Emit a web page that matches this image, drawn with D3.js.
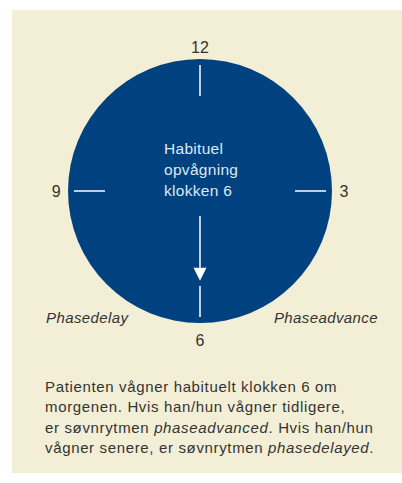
<!DOCTYPE html>
<meta charset="utf-8">
<title>Phase clock</title>
<style>
body { margin: 0; background: #fff; }
svg { display: block; font-family: "Liberation Sans", Arial, sans-serif; }
.hour { fill: #333; font-size: 16px; }
.phase { fill: #333; font-size: 15px; font-style: italic; letter-spacing: 0.4px; }
.center { fill: #dfe8f2; font-size: 15.5px; letter-spacing: 0.3px; }
.note { fill: #333; font-size: 15px; letter-spacing: 0.65px; }
</style>
<body>
<div id="graph"></div>
</body>
<script src="https://cdn.jsdelivr.net/npm/d3@7"></script>
<script>

var hours = [12, 3, 6, 9],
    centerLines = ['Habituel', 'opvågning', 'klokken 6'],
    phases = [{label: 'Phasedelay', side: 'left'}, {label: 'Phaseadvance', side: 'right'}],
    wakeHour = 6,
    noteLines = [
      [['Patienten vågner habituelt klokken 6 om', false]],
      [['morgenen. Hvis han/hun vågner tidligere,', false]],
      [['er søvnrytmen ', false], ['phaseadvanced', true], ['. Hvis han/hun', false]],
      [['vågner senere, er søvnrytmen ', false], ['phasedelayed', true], ['.', false]]
    ];

var W = 402, H = 483,
    cx = 200, cy = 191, R = 132;

var svg = d3.select('#graph').append('svg').attr('width', W).attr('height', H);

svg.append('rect').attr('x', 12).attr('y', 10).attr('width', W - 12).attr('height', 463)
  .attr('fill', '#f3eed6');

// clock angle: 0 at 12 o'clock, clockwise
var angle = d3.scaleLinear().domain([0, 12]).range([0, 2 * Math.PI]);
var radial = d3.scaleLinear().domain([0, 1]).range([0, R]);

function pt(h, r) {
  var a = angle(h % 12);
  return [cx + r * Math.sin(a), cy - r * Math.cos(a)];
}

var g = svg.append('g');

g.append('circle').attr('cx', cx).attr('cy', cy).attr('r', radial(1)).attr('fill', '#00427f');

g.selectAll('line.tick').data(hours).join('line')
  .attr('class', 'tick')
  .attr('x1', d => pt(d, radial(0.72))[0]).attr('y1', d => pt(d, radial(0.72))[1])
  .attr('x2', d => pt(d, radial(0.955))[0]).attr('y2', d => pt(d, radial(0.955))[1])
  .attr('stroke', '#fff').attr('stroke-width', 1.5);

g.selectAll('text.hour').data(hours).join('text')
  .attr('class', 'hour')
  .attr('x', d => pt(d, radial(d === 6 ? 1.13 : 1.09))[0])
  .attr('y', d => pt(d, radial(d === 6 ? 1.13 : 1.09))[1])
  .attr('text-anchor', 'middle').attr('dy', '0.36em')
  .text(d => d);

// arrow toward wake hour
var a0 = pt(wakeHour, radial(0.19)), a1 = pt(wakeHour, radial(0.68));
g.append('line')
  .attr('x1', a0[0]).attr('y1', a0[1]).attr('x2', a1[0]).attr('y2', a1[1] - 13)
  .attr('stroke', '#fff').attr('stroke-width', 1.5);
g.append('path')
  .attr('d', 'M' + (a1[0] - 6.5) + ',' + (a1[1] - 13) + 'L' + (a1[0] + 6.5) + ',' + (a1[1] - 13) + 'L' + a1[0] + ',' + a1[1] + 'Z')
  .attr('fill', '#fff');

svg.selectAll('text.center').data(centerLines).join('text')
  .attr('class', 'center')
  .attr('x', 164).attr('y', (d, i) => 154 + i * 21)
  .text(d => d);

svg.selectAll('text.phase').data(phases).join('text')
  .attr('class', 'phase')
  .attr('x', d => d.side === 'left' ? 46 : 378)
  .attr('y', 323)
  .attr('text-anchor', d => d.side === 'left' ? 'start' : 'end')
  .text(d => d.label);

svg.selectAll('text.note').data(noteLines).join('text')
  .attr('class', 'note')
  .attr('x', 45).attr('y', (d, i) => 392 + i * 20.3)
  .selectAll('tspan').data(d => d).join('tspan')
  .attr('font-style', d => d[1] ? 'italic' : null)
  .text(d => d[0]);

</script>
